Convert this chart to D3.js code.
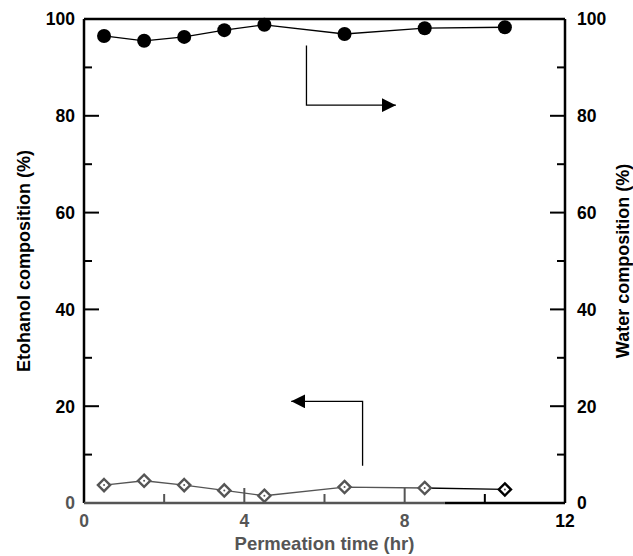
<!DOCTYPE html>
<html>
<head>
<meta charset="utf-8">
<script src="https://cdn.jsdelivr.net/npm/d3@7"></script>
<style>
  body { margin: 0; background: #fff; }
  text { font-family: "Liberation Sans", Arial, sans-serif; font-weight: bold; }
</style>
</head>
<body>
<div id="chart"></div>
<script>
// data
const times = [0.5, 1.5, 2.5, 3.5, 4.5, 6.5, 8.5, 10.5];
const water = [96.5, 95.5, 96.3, 97.7, 98.8, 96.9, 98.1, 98.3];
const ethanol = [3.7, 4.6, 3.7, 2.6, 1.5, 3.3, 3.1, 2.8];
const xMajor = [0, 4, 8, 12];
const xMinor = [2, 6, 10];
const yMajor = [0, 20, 40, 60, 80, 100];
const yMinor = [10, 30, 50, 70, 90];

const width = 633, height = 556;
const margin = { left: 84, right: 68, top: 19, bottom: 53 };
const gray = "#555";

const svg = d3.select("#chart").append("svg")
    .attr("width", width)
    .attr("height", height);

const x = d3.scaleLinear().domain([0, 12]).range([margin.left, width - margin.right]);
const yL = d3.scaleLinear().domain([0, 100]).range([height - margin.bottom, margin.top]);
const yR = d3.scaleLinear().domain([0, 100]).range([height - margin.bottom, margin.top]);

const x0 = x(0), x1 = x(12), y0 = yL(0), y1 = yL(100);

// frame
const frame = svg.append("g").attr("stroke", "#000").attr("stroke-width", 2.5);
frame.append("line").attr("x1", x0).attr("x2", x1).attr("y1", y1).attr("y2", y1);
frame.append("line").attr("x1", x0).attr("x2", x0).attr("y1", y1).attr("y2", y0);
frame.append("line").attr("x1", x1).attr("x2", x1).attr("y1", y1).attr("y2", y0);
// bottom axis: faded left part, black right part
frame.append("line").attr("x1", x0).attr("x2", x(9)).attr("y1", y0).attr("y2", y0).attr("stroke", gray);
frame.append("line").attr("x1", x(9)).attr("x2", x1).attr("y1", y0).attr("y2", y0);

// y ticks (inward) on both sides
const ticks = svg.append("g").attr("stroke", "#000").attr("stroke-width", 2);
yMajor.filter(v => v > 0 && v < 100).forEach(v => {
    ticks.append("line").attr("x1", x0).attr("x2", x0 + 15).attr("y1", yL(v)).attr("y2", yL(v));
    ticks.append("line").attr("x1", x1).attr("x2", x1 - 15).attr("y1", yR(v)).attr("y2", yR(v));
});
yMinor.forEach(v => {
    ticks.append("line").attr("x1", x0).attr("x2", x0 + 8).attr("y1", yL(v)).attr("y2", yL(v));
    ticks.append("line").attr("x1", x1).attr("x2", x1 - 8).attr("y1", yR(v)).attr("y2", yR(v));
});
// x ticks (inward)
xMajor.filter(v => v > 0 && v < 12).forEach(v => {
    ticks.append("line").attr("x1", x(v)).attr("x2", x(v)).attr("y1", y0).attr("y2", y0 - 15)
        .attr("stroke", gray);
});
xMinor.forEach(v => {
    ticks.append("line").attr("x1", x(v)).attr("x2", x(v)).attr("y1", y0).attr("y2", y0 - 9)
        .attr("stroke", v > 9 ? "#000" : gray);
});

// tick labels
const lab = svg.append("g").attr("font-size", 17.5);
yMajor.forEach(v => {
    lab.append("text").attr("x", x0 - 9).attr("y", yL(v)).attr("dy", "0.36em")
        .attr("text-anchor", "end").attr("fill", v === 0 ? gray : "#000").text(v);
    lab.append("text").attr("x", x1 + 12).attr("y", yR(v)).attr("dy", "0.36em")
        .attr("text-anchor", "start").text(v);
});
xMajor.forEach(v => {
    lab.append("text").attr("x", x(v)).attr("y", y0 + 24)
        .attr("text-anchor", "middle").attr("fill", v < 12 ? gray : "#000").text(v);
});

// axis titles
svg.append("text").attr("font-size", 18).attr("text-anchor", "middle")
    .attr("transform", `translate(30,${(y0 + y1) / 2}) rotate(-90)`)
    .text("Etohanol composition (%)");
svg.append("text").attr("font-size", 18).attr("text-anchor", "middle")
    .attr("transform", `translate(629,${(y0 + y1) / 2}) rotate(-90)`)
    .text("Water composition (%)");
svg.append("text").attr("font-size", 18.5).attr("text-anchor", "middle").attr("fill", gray)
    .attr("x", (x0 + x1) / 2).attr("y", 550)
    .text("Permeation time (hr)");

// water series (right axis)
const wLine = d3.line().x((d, i) => x(times[i])).y(d => yR(d));
svg.append("path").datum(water).attr("d", wLine)
    .attr("fill", "none").attr("stroke", "#000").attr("stroke-width", 1.3);
svg.append("g").selectAll("circle").data(water).join("circle")
    .attr("cx", (d, i) => x(times[i])).attr("cy", d => yR(d))
    .attr("r", 7).attr("fill", "#000");

// ethanol series (left axis)
const eLine = d3.line().x((d, i) => x(times[i])).y(d => yL(d));
svg.append("path").datum(ethanol.slice(0, 7)).attr("d", eLine)
    .attr("fill", "none").attr("stroke", gray).attr("stroke-width", 1.3);
svg.append("line")
    .attr("x1", x(times[6])).attr("y1", yL(ethanol[6]))
    .attr("x2", x(times[7])).attr("y2", yL(ethanol[7]))
    .attr("stroke", "#000").attr("stroke-width", 1.3);
const diamond = d3.symbol().type(d3.symbolDiamond2).size(95);
svg.append("g").selectAll("path").data(ethanol).join("path")
    .attr("transform", (d, i) => `translate(${x(times[i])},${yL(d)})`)
    .attr("d", diamond)
    .attr("fill", "#fff")
    .attr("stroke", (d, i) => i === 7 ? "#000" : gray)
    .attr("stroke-width", 2.4);
svg.append("g").selectAll("circle").data(ethanol).join("circle")
    .attr("cx", (d, i) => x(times[i])).attr("cy", d => yL(d))
    .attr("r", 1).attr("fill", gray);

// arrows pointing to the axes
svg.append("defs").append("marker")
    .attr("id", "head").attr("viewBox", "0 0 10 10")
    .attr("refX", 10).attr("refY", 5)
    .attr("markerWidth", 14).attr("markerHeight", 14)
    .attr("markerUnits", "userSpaceOnUse").attr("orient", "auto")
    .append("path").attr("d", "M0,0L10,5L0,10Z").attr("fill", "#000");

svg.append("path")
    .attr("d", `M${x(5.55)},${yR(94.5)}V${yR(82.2)}H${x(7.78)}`)
    .attr("fill", "none").attr("stroke", "#000").attr("stroke-width", 1.3)
    .attr("marker-end", "url(#head)");
svg.append("path")
    .attr("d", `M${x(6.95)},${yL(7.7)}V${yL(21)}H${x(5.17)}`)
    .attr("fill", "none").attr("stroke", "#000").attr("stroke-width", 1.3)
    .attr("marker-end", "url(#head)");
</script>
</body>
</html>
